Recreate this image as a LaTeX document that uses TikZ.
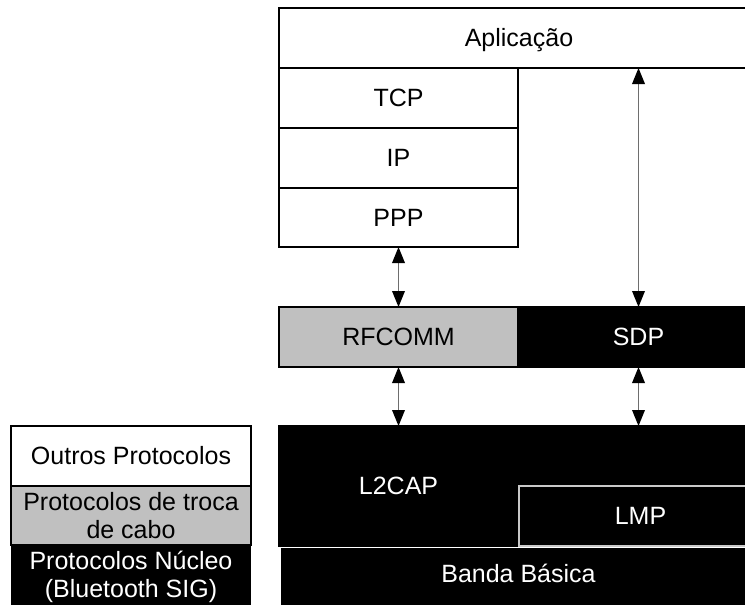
\documentclass[tikz,border=0pt]{standalone}
\usepackage{fontspec}
\setmainfont{Liberation Sans}
\usetikzlibrary{arrows.meta,fit}
\definecolor{layergrey}{HTML}{C0C0C0}
\definecolor{linkgrey}{HTML}{6E6E6E}
\definecolor{lmpedge}{HTML}{C8C8C8}
\begin{document}
\begin{tikzpicture}[x=0.75pt,y=-0.75pt,
  every node/.style={font=\fontsize{18.75}{21.4}\selectfont, inner sep=0pt, outer sep=0pt},
  layer/.style={draw=black, line width=1.2pt, fill=white, fit={#1}},
  darklayer/.style={draw=black, line width=1.2pt, fill=black, fit={#1}},
  greylayer/.style={draw=black, line width=1.2pt, fill=layergrey, fit={#1}},
  tag/.style={text height=13.4pt, text depth=0pt, text=black},
  whitetag/.style={tag, text=white},
  twolines/.style={align=center},
  link/.style={draw=linkgrey, line width=1pt,
    {Triangle[length=12pt,width=9.5pt,color=black]}-{Triangle[length=12pt,width=9.5pt,color=black]}},
]
\useasboundingbox (0,0) rectangle (745,604);

% protocol stack
\node[layer={(279,8)(759,68)}] (app) {};
\node[layer={(279,68)(518,128)}] (tcp) {};
\node[layer={(279,128)(518,188)}] (ip) {};
\node[layer={(279,188)(518,247)}] (ppp) {};
\node[greylayer={(279,307)(518,367)}] (rfcomm) {};
\node[darklayer={(518,307)(759,367)}] (sdp) {};
\node[darklayer={(279,426)(759,546)}] (l2cap) {};
\node[darklayer={(519,486)(762,546)}, draw=lmpedge] (lmp) {};
\node[darklayer={(281,547.5)(762,610)}, draw=none] (baseband) {};

\node[tag] (applabel) at (app.center) {Aplicação};
\node[tag] (tcplabel) at (tcp.center) {TCP};
\node[tag] (iplabel) at (ip.center) {IP};
\node[tag] (ppplabel) at (ppp.center) {PPP};
\node[tag] (rfcommlabel) at (rfcomm.center) {RFCOMM};
\node[whitetag] (sdplabel) at (sdp.center) {SDP};
\node[whitetag] (l2caplabel) at (398.5,486) {L2CAP};
\node[whitetag] (lmplabel) at (lmp.center) {LMP};
\node[whitetag] (basebandlabel) at (518.5,574) {Banda Básica};

% links between layers
\draw[link] (ppp.south) -- (rfcomm.north);
\draw[link] (sdp.north |- app.south) -- (sdp.north);
\draw[link] (rfcomm.south) -- (rfcomm.south |- l2cap.north);
\draw[link] (sdp.south) -- (sdp.south |- l2cap.north);

% legend
\node[darklayer={(11,545)(251,607)}, draw=none] (coreprot) {};
\node[greylayer={(11,486)(251,545)}] (cableprot) {};
\node[layer={(11,426)(251,486)}] (otherprot) {};
\node[tag] (otherlabel) at (otherprot.center) {Outros Protocolos};
\node[twolines, text=black] (cablelabel) at (cableprot.center) {Protocolos de troca\\de cabo};
\node[twolines, text=white] (corelabel) at (131,577) {Protocolos Núcleo\\(Bluetooth SIG)};
\end{tikzpicture}
\end{document}
